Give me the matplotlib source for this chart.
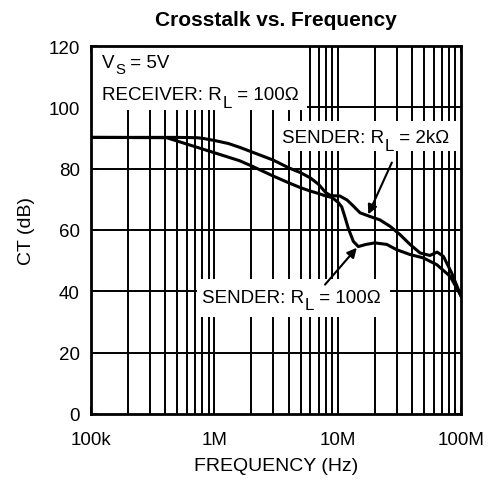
import matplotlib
matplotlib.use("Agg")
import matplotlib.pyplot as plt
from matplotlib.patches import Rectangle
import numpy as np

plt.rcParams['font.family'] = ['Liberation Sans', 'DejaVu Sans']

# ---- data ----
freq_2k = [1e5, 5e5, 7.2e5, 8e5, 1e6, 1.3e6, 1.62e6, 2e6, 3e6, 4e6, 5e6, 6e6, 7e6, 8e6,
           8.8e6, 10.4e6, 11.9e6, 12.8e6, 15.2e6, 18.3e6, 22e6, 26.6e6, 32e6, 38.6e6,
           46.6e6, 56e6, 64e6, 72e6, 84e6, 100e6]
ct_2k = [90.2, 90.2, 90.1, 89.9, 89.2, 88.2, 86.9, 85.5, 82.8, 80.3, 78.7, 77.0, 74.9, 72.2,
         71.2, 71.1, 69.8, 68.6, 65.6, 64.4, 63.3, 61.2, 58.5, 55.3,
         52.5, 51.7, 52.8, 51.4, 46.0, 38.5]

freq_100 = [1e5, 4.1e5, 6e5, 1e6, 1.6e6, 2e6, 3e6, 4e6, 5e6, 6e6, 7e6, 8e6, 9e6,
            10.1e6, 10.8e6, 11.5e6, 12.2e6, 13.4e6, 14.7e6, 17e6, 20e6, 25e6, 30e6,
            38.6e6, 49.5e6, 63.6e6, 81.6e6, 100e6]
ct_100 = [90.2, 90.1, 88.0, 85.2, 82.6, 80.9, 77.6, 75.4, 73.8, 72.7, 71.9, 71.1, 70.6,
          69.0, 67.5, 64.0, 60.5, 56.3, 54.6, 55.3, 55.8, 55.3, 53.6,
          52.0, 50.9, 48.7, 44.9, 38.5]

x_ticks = [1e5, 1e6, 1e7, 1e8]
x_ticklabels = ['100k', '1M', '10M', '100M']
y_ticks = [0, 20, 40, 60, 80, 100, 120]

fig = plt.figure(figsize=(4.91, 4.85), dpi=100)
ax = fig.add_axes([91/491, 1-415/485, 370/491, 368/485])
ax.set_xscale('log')
ax.set_xlim(1e5, 1e8)
ax.set_ylim(0, 120)

# grid lines (drawn manually below text boxes)
for d in [1e5, 1e6, 1e7]:
    for m in range(1, 10):
        v = d * m
        if 1e5 < v < 1e8:
            ax.axvline(v, color='black', lw=1.4, zorder=1)
for yv in y_ticks[1:-1]:
    ax.axhline(yv, color='black', lw=1.4, zorder=1)

ax.plot(freq_2k, ct_2k, color='black', lw=2.2, zorder=4, solid_joinstyle='round')
ax.plot(freq_100, ct_100, color='black', lw=2.2, zorder=4, solid_joinstyle='round')

ax.set_xticks(x_ticks)
ax.set_xticklabels(x_ticklabels)
ax.set_yticks(y_ticks)
ax.tick_params(axis='both', which='both', direction='in', top=True, right=True,
               labelsize=13.5, width=1.2, colors='black')
ax.tick_params(which='major', length=5)
ax.tick_params(which='minor', length=4)
ax.tick_params(axis='x', pad=12)
ax.tick_params(axis='y', pad=8)
for s in ax.spines.values():
    s.set_linewidth(2)
    s.set_zorder(5)

ax.set_title('Crosstalk vs. Frequency', fontsize=15, fontweight='bold', pad=15)
ax.set_xlabel('FREQUENCY (Hz)', fontsize=14, labelpad=7)
ax.set_ylabel('CT (dB)', fontsize=14, labelpad=10)


def pixbox(x0, x1, y0, y1):
    ax.add_patch(Rectangle(((x0 - 91) / 370, (415 - y1) / 368), (x1 - x0) / 370, (y1 - y0) / 368,
                           transform=ax.transAxes, facecolor='white', edgecolor='none', zorder=2))


def sublabel(x, y, pre, sub, post, size, subscale, drop):
    t1 = ax.text(x, y, pre, fontsize=size, va='baseline', zorder=3)
    t2 = ax.annotate(sub, xy=(1, 0), xycoords=t1, xytext=(0.3, -drop), textcoords='offset points',
                     fontsize=size * subscale, va='bottom', ha='left', zorder=3)
    ax.annotate(post, xy=(1, 0), xycoords=(t2, t1), xytext=(0, 0), textcoords='offset points',
                fontsize=size, va='bottom', ha='left', zorder=3)


pixbox(91, 307, 47, 111)
pixbox(278, 457, 122, 152)
pixbox(197, 390, 280, 318)

FS = 13.5
sublabel(1.23e5, 113, 'V', 'S', ' = 5V', FS, 0.8, 3.6)
sublabel(1.23e5, 102.7, 'RECEIVER: R', 'L', ' = 100Ω', FS, 0.9, 4.7)
sublabel(3.54e6, 88.6, 'SENDER: R', 'L', ' = 2kΩ', FS, 0.9, 4.7)
sublabel(7.95e5, 36.6, 'SENDER: R', 'L', ' = 100Ω', FS, 0.9, 4.7)

arrow = dict(arrowstyle='-|>', color='black', lw=1.5, mutation_scale=14, shrinkA=0, shrinkB=0)
ax.annotate('', xy=(17.7e6, 65.1), xytext=(27.5e6, 82), arrowprops=arrow, zorder=6)
ax.annotate('', xy=(14.3e6, 54.2), xytext=(7.9e6, 42.2), arrowprops=arrow, zorder=6)

fig.savefig('out.png', dpi=100)
